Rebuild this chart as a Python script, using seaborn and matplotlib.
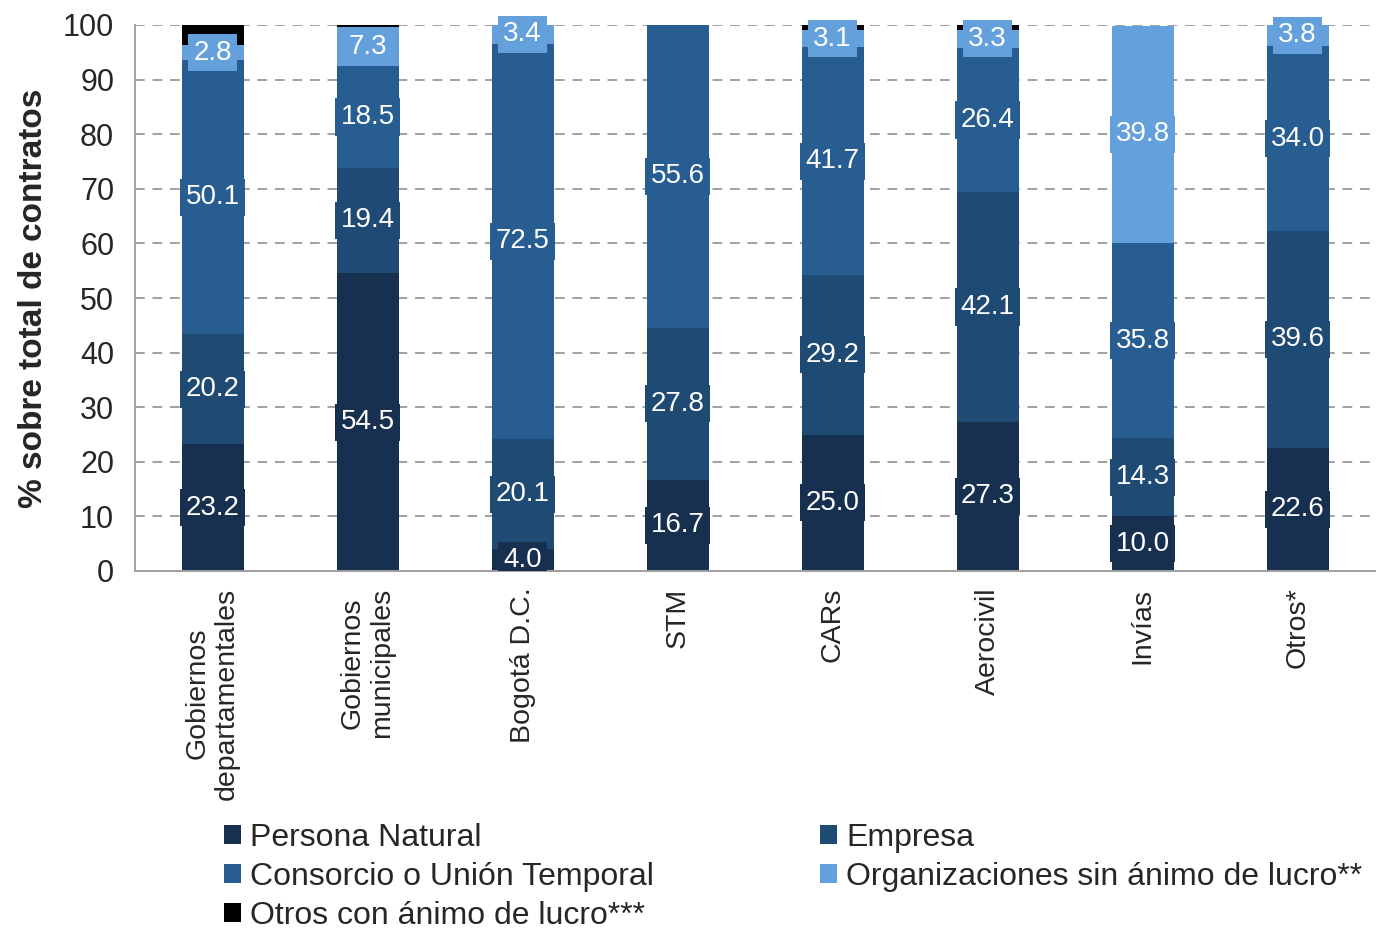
import numpy as np
import pandas as pd
import matplotlib
matplotlib.use("Agg")
import matplotlib.pyplot as plt
import seaborn as sns
from matplotlib.patches import Patch
from matplotlib.ticker import FixedLocator

categories = ["Gobiernos\ndepartamentales", "Gobiernos\nmunicipales", "Bogotá D.C.", "STM",
              "CARs", "Aerocivil", "Invías", "Otros*"]
series_names = ["Persona Natural", "Empresa", "Consorcio o Unión Temporal",
                "Organizaciones sin ánimo de lucro**", "Otros con ánimo de lucro***"]
persona_natural = [23.2, 54.5, 4.0, 16.7, 25.0, 27.3, 10.0, 22.6]
empresa = [20.2, 19.4, 20.1, 27.8, 29.2, 42.1, 14.3, 39.6]
consorcio = [50.1, 18.5, 72.5, 55.6, 41.7, 26.4, 35.8, 34.0]
organizaciones = [2.8, 7.3, 3.4, 0.0, 3.1, 3.3, 39.8, 3.8]
otros_lucro = [3.7, 0.3, 0.0, 0.0, 1.0, 0.9, 0.0, 0.0]
show_labels = [True, True, True, True, False]
colors = ["#17304F", "#1F4A73", "#275D90", "#63A0DC", "#000000"]

sns.set_style("white")
plt.rcParams["font.family"] = ["Liberation Sans", "DejaVu Sans"]

series = [persona_natural, empresa, consorcio, organizaciones, otros_lucro]
df = pd.DataFrame({"cat": categories})
cum = np.zeros(len(categories))
bottoms = []
for name, vals in zip(series_names, series):
    bottoms.append(cum.copy())
    cum = cum + np.array(vals)
    df[name] = cum.copy()

fig = plt.figure(figsize=(13.79, 9.32), dpi=100)
ax = fig.add_axes([135 / 1379, 1 - 571 / 932, (1375 - 135) / 1379, (571 - 25) / 932])

# layered cumulative bars (top series first)
for name, col in reversed(list(zip(series_names, colors))):
    sns.barplot(data=df, x="cat", y=name, color=col, width=0.4, saturation=1,
                errorbar=None, order=categories, ax=ax, zorder=2,
                linewidth=0, edgecolor="none")

# value labels
for s_idx, (vals, col) in enumerate(zip(series, colors)):
    if not show_labels[s_idx]:
        continue
    for i, v in enumerate(vals):
        if v <= 0:
            continue
        b = bottoms[s_idx][i]
        ax.text(i, b + v / 2, f"{v:.1f}", ha="center", va="center", color="white",
                fontsize=20, zorder=5,
                bbox=dict(boxstyle="square,pad=0.2", fc=col, ec="none"),
                clip_on=(b == 0 and v < 6))

ax.set_xlim(-0.5, 7.5)
ax.set_ylim(0, 100)
ax.set_yticks(np.arange(0, 101, 10))
ax.tick_params(axis="y", labelsize=22, length=7, width=1.2, color="#A0A0A0", direction="out", pad=8)
ax.yaxis.grid(True, linestyle=(0, (5, 4)), color="#A0A0A0", linewidth=1.4)
ax.set_axisbelow(True)
ax.set_xlabel("")
ax.set_ylabel("% sobre total de contratos", fontsize=24, fontweight="bold", labelpad=10)

ax.set_xticks(range(len(categories)))
ax.set_xticklabels(categories, rotation=90, fontsize=20.5, va="top", ha="center",
                   multialignment="center", linespacing=1.15)
ax.tick_params(axis="x", which="major", length=0, pad=12)
ax.xaxis.set_minor_locator(FixedLocator(np.arange(-0.5, 8, 1)))
ax.tick_params(axis="x", which="minor", length=8, width=1.2, color="#A0A0A0", direction="out")

for sp in ["top", "right"]:
    ax.spines[sp].set_visible(False)
for sp in ["left", "bottom"]:
    ax.spines[sp].set_color("#A0A0A0")
    ax.spines[sp].set_linewidth(1.4)

handles = [Patch(facecolor=c, edgecolor="none") for c in colors]
order = [0, 2, 4, 1, 3]
fig.legend([handles[k] for k in order], [series_names[k] for k in order],
           loc="upper left", bbox_to_anchor=(224 / 1379, 1 - 823 / 932), ncol=2,
           frameon=False, fontsize=23, handlelength=0.52, handleheight=0.52,
           handletextpad=0.3, columnspacing=5.2, labelspacing=0.28, borderaxespad=0,
           borderpad=0)

fig.savefig("out.png", dpi=100)
